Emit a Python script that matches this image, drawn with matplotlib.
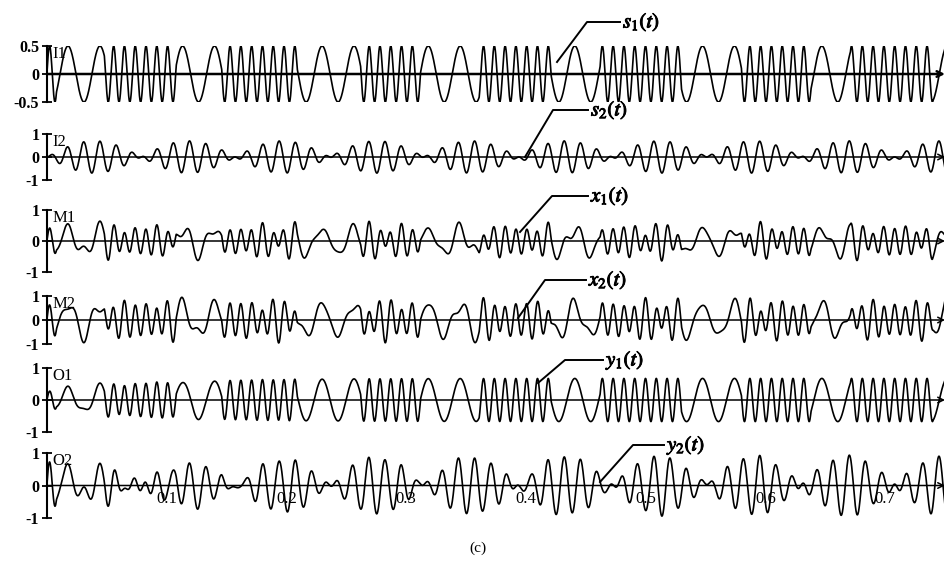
import numpy as np
import matplotlib
matplotlib.use('Agg')
import matplotlib.pyplot as plt
import matplotlib.patheffects as pe
from matplotlib.lines import Line2D

plt.rcParams['font.family'] = ['Liberation Serif', 'DejaVu Serif']
plt.rcParams['mathtext.fontset'] = 'stix'
plt.rcParams['axes.unicode_minus'] = False

# time axis (s)
t_end = 0.75
n_pts = 7500

# s1 : frequency-switched source, low-frequency stretches (s)
s1_low_start = [0.008, 0.108, 0.209, 0.312, 0.421, 0.530, 0.638, 0.740]
s1_low_end = [0.048, 0.146, 0.262, 0.361, 0.462, 0.580, 0.671, 0.750]
s1_f_low = 37.5
s1_f_high = 111.0
s1_amp = 0.5

# s2 : amplitude-modulated source
s2_amp = 0.7
s2_carrier = 73.5
s2_null_gap = 0.0787

# mixing matrix  x = A s
mix = [[0.8, 0.35],
       [1.3, -0.45]]

# separating gains: [start, final, time constant]
y1_own = [0.5, 1.35, 0.08]
y1_leak = [0.3, 0.0, 0.06]
y2_leak = [1.5, 0.08, 0.04]
y2_own = [0.2, 1.3, 0.10]

row_names = ['I1', 'I2', 'M1', 'M2', 'O1', 'O2']
row_lims = [0.5, 1, 1, 1, 1, 1]
time_ticks = [0.1, 0.2, 0.3, 0.4, 0.5, 0.6, 0.7]
curve_names = [r'$s_1(t)$', r'$s_2(t)$', r'$x_1(t)$', r'$x_2(t)$', r'$y_1(t)$', r'$y_2(t)$']

# ---- layout, in pixels of the 945 x 561 canvas
W, H = 945, 561
left_px, right_px = 47, 945
row_px = [(46, 102), (134, 180), (210, 272), (296, 344), (368, 432), (453, 518)]
# leader: start, knee, end of the horizontal bit
leaders = [[(557, 62), (587, 22), (620, 22)],
           [(525, 157), (553, 110), (588, 110)],
           [(520, 232), (552, 196), (588, 196)],
           [(518, 318), (545, 280), (586, 280)],
           [(538, 383), (565, 360), (603, 360)],
           [(600, 482), (633, 445), (664, 445)]]


def gain(p, t):
    return p[1] + (p[0] - p[1]) * np.exp(-t / p[2])


t = np.linspace(0, t_end, n_pts)
dt = t[1] - t[0]
freq = np.full_like(t, s1_f_high)
for a, b in zip(s1_low_start, s1_low_end):
    freq[(t >= a) & (t < b)] = s1_f_low
s1 = s1_amp * np.sin(2 * np.pi * np.cumsum(freq) * dt)
s2 = s2_amp * np.sin(2 * np.pi * s2_carrier * t) * np.sin(np.pi * t / s2_null_gap)

x1 = mix[0][0] * s1 + mix[0][1] * s2
x2 = mix[1][0] * s1 + mix[1][1] * s2
y1 = gain(y1_own, t) * s1 + gain(y1_leak, t) * s2
y2 = gain(y2_leak, t) * s1 + gain(y2_own, t) * s2
signals = [s1, s2, x1, x2, y1, y2]

fig = plt.figure(figsize=(W / 100, H / 100), dpi=100)

for i in range(6):
    top, bot = row_px[i]
    ax = fig.add_axes([left_px / W, 1 - bot / H, (right_px - left_px) / W, (bot - top) / H])
    lim = row_lims[i]
    ax.plot(t, signals[i], color='black', lw=1.2)
    ax.set_xlim(0, t_end)
    ax.set_ylim(-lim, lim)
    for s in ['top', 'right', 'bottom']:
        ax.spines[s].set_visible(False)
    ax.spines['left'].set_linewidth(1.5)
    ax.set_xticks([])
    ax.set_yticks([-lim, 0, lim])
    if lim == 0.5:
        ax.set_yticklabels(['-0.5', '0', '0.5'])
    else:
        ax.set_yticklabels(['-1', '0', '1'])
    ax.tick_params(axis='y', direction='inout', length=7, width=1.3, pad=2,
                   labelsize=11.5)
    for lab in ax.get_yticklabels():
        lab.set_fontweight('bold')
    # zero axis with arrow
    ax.annotate('', xy=(1.0, 0), xytext=(0, 0), xycoords=('axes fraction', 'data'),
                textcoords=('axes fraction', 'data'),
                arrowprops=dict(arrowstyle='->', lw=1.8 if i == 0 else 1.1,
                                color='black', shrinkA=0, shrinkB=0))
    ax.text(0.006, 1.0, row_names[i], transform=ax.transAxes, ha='left', va='top',
            fontsize=12)
    if i == 5:
        for tt in time_ticks:
            ax.text(tt, -0.42, '%.1f' % tt, ha='center', va='center', fontsize=12)

# curve name leaders
for i in range(6):
    pts = leaders[i]
    xs = [p[0] / W for p in pts]
    ys = [1 - p[1] / H for p in pts]
    fig.add_artist(Line2D(xs, ys, color='black', lw=1.4))
    fig.text(xs[-1] + 3 / W, ys[-1], curve_names[i], ha='left', va='center',
             fontsize=15, path_effects=[pe.withStroke(linewidth=0.7, foreground='black')])

fig.text(478 / W, 1 - 548 / H, '(c)', ha='center', va='center', fontsize=11)

fig.savefig('out.png', dpi=100, facecolor='white')
